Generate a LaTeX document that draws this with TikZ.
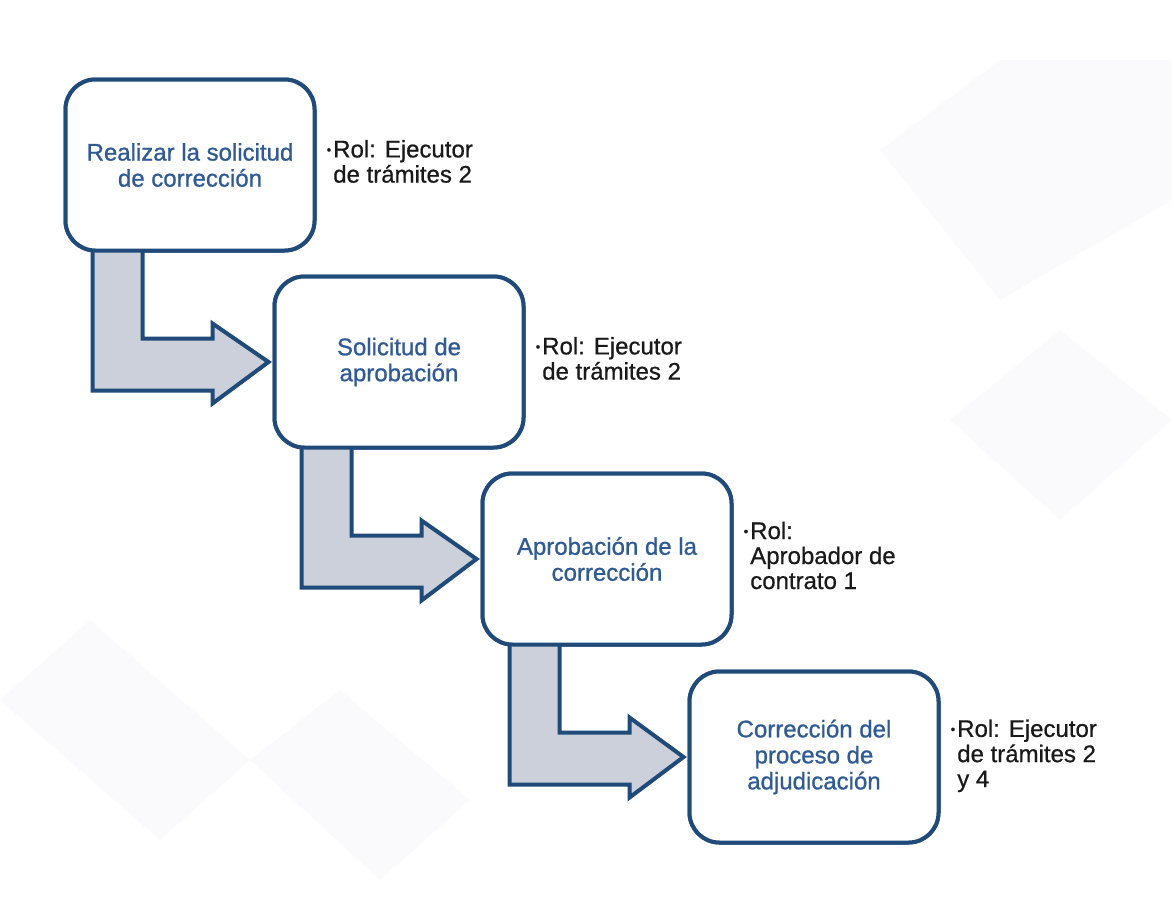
\documentclass[tikz,border=0pt]{standalone}
\usepackage{fontspec}
\setmainfont{Liberation Sans}[FakeBold=0.6]
\newfontfamily\boxfont{Liberation Sans}[FakeBold=0.9]
\usetikzlibrary{calc}
\definecolor{navy}{HTML}{1F4A7A}
\definecolor{boxtext}{HTML}{2F5A94}
\definecolor{arrowfill}{HTML}{CBD0DA}
\definecolor{wm}{HTML}{FAFAFC}
\begin{document}
\begin{tikzpicture}[x=1pt,y=-1pt,
  stepbox/.style={draw=navy,line width=4pt,fill=white,rounded corners=30pt,
    minimum width=249pt,minimum height=171pt,align=center,text=boxtext,
    font=\boxfont\fontsize{24pt}{26pt}\selectfont,inner sep=0pt},
  roltext/.style={anchor=west,align=left,text=black!90,
    font=\fontsize{24pt}{25pt}\selectfont,inner sep=0pt},
  bentarrow/.style={draw=navy,line width=4pt,fill=arrowfill,line join=miter}]
\useasboundingbox (0,0) rectangle (1172,921);
\fill[white] (0,0) rectangle (1172,921);
% faint watermark shapes
\fill[wm] (0,700) -- (90,620) -- (250,760) -- (160,840) -- cycle;
\fill[wm] (250,760) -- (340,690) -- (470,800) -- (380,880) -- cycle;
\fill[wm] (880,150) -- (1000,60) -- (1172,60) -- (1172,200) -- (1000,300) -- cycle;
\fill[wm] (950,420) -- (1060,330) -- (1172,420) -- (1060,520) -- cycle;
% boxes
\node[stepbox] (b1) at (190,165) {Realizar la solicitud\\de corrección};
\node[stepbox] (b2) at (399,362) {Solicitud de\\aprobación};
\node[stepbox] (b3) at (607,559) {Aprobación de la\\corrección};
\node[stepbox] (b4) at (814,757) {Corrección del\\proceso de\\adjudicación};
% bent arrows
\foreach \a/\b in {b1/b2,b2/b3,b3/b4}{
  \coordinate (o) at (\a.south west);
  \draw[bentarrow] ($(o)+(29,-6)$) -- ($(o)+(79,-6)$) -- ($(o)+(79,86)$)
    -- ($(o)+(149,86)$) -- ($(o)+(149,71)$) -- ($(\b.west)+(-4,0)$)
    -- ($(o)+(149,151)$) -- ($(o)+(149,138)$) -- ($(o)+(29,138)$) -- cycle;
}
% redraw boxes on top
\node[stepbox] at (b1) {Realizar la solicitud\\de corrección};
\node[stepbox] at (b2) {Solicitud de\\aprobación};
\node[stepbox] at (b3) {Aprobación de la\\corrección};
\node[stepbox] at (b4) {Corrección del\\proceso de\\adjudicación};
% role texts
\newcommand{\rolbul}{\raisebox{0.25ex}{\fontsize{13pt}{13pt}\selectfont\textbullet}}
\node[roltext] (r1) at ($(b1.east)+(10,0)$) {\begin{tabular}{@{}l@{\hspace{2pt}}l@{}}\rolbul & Rol: Ejecutor\\ & de trámites 2\end{tabular}};
\node[roltext] (r2) at ($(b2.east)+(10,0)$) {\begin{tabular}{@{}l@{\hspace{2pt}}l@{}}\rolbul & Rol: Ejecutor\\ & de trámites 2\end{tabular}};
\node[roltext] (r3) at ($(b3.east)+(10,0)$) {\begin{tabular}{@{}l@{\hspace{2pt}}l@{}}\rolbul & Rol:\\ & Aprobador de\\ & contrato 1\end{tabular}};
\node[roltext] (r4) at ($(b4.east)+(10,0)$) {\begin{tabular}{@{}l@{\hspace{2pt}}l@{}}\rolbul & Rol: Ejecutor\\ & de trámites 2\\ & y 4\end{tabular}};
\end{tikzpicture}
\end{document}
